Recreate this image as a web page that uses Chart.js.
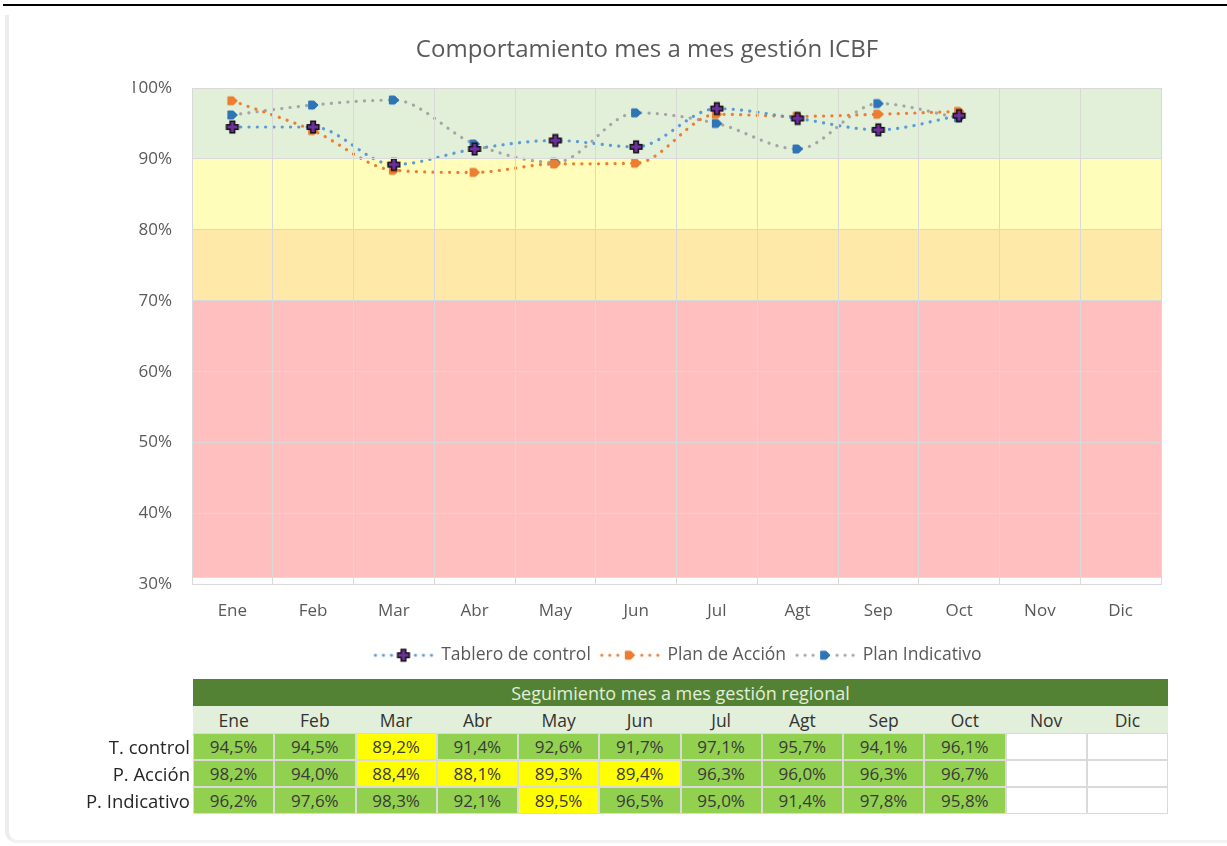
<!DOCTYPE html>
<html>
<head>
<meta charset="utf-8">
<script src="https://cdn.jsdelivr.net/npm/chart.js@4.4.1/dist/chart.umd.min.js"></script>
<style>
  html, body { margin: 0; padding: 0; background: #fff; }
  body { width: 1227px; height: 846px; position: relative; overflow: hidden; font-family: "Open Sans", sans-serif; }
  #topline { position: absolute; left: 3px; top: 4px; width: 1224px; height: 2px; background: #000; }
  #frame { position: absolute; left: 5px; top: 15px; width: 1240px; height: 828px; border-left: 4px solid #ededed; border-bottom: 3px solid #f2f2f2; border-bottom-left-radius: 12px; box-sizing: border-box; }
  #chart { position: absolute; left: 0; top: 0; }
  #tbl { position: absolute; left: 0; top: 0; width: 1227px; height: 846px; pointer-events: none; }
  .c { position: absolute; box-sizing: border-box; display: flex; align-items: center; justify-content: center; font-size: 17px; color: #3a3a3a; white-space: nowrap; }
</style>
</head>
<body>
<div id="topline"></div>
<div id="frame"></div>
<canvas id="chart" width="1227" height="680"></canvas>
<div id="tbl"></div>
<script>
// ---------- data ----------
const months = ["Ene","Feb","Mar","Abr","May","Jun","Jul","Agt","Sep","Oct","Nov","Dic"];
const tableroControl = [94.5, 94.5, 89.2, 91.4, 92.6, 91.7, 97.1, 95.7, 94.1, 96.1, null, null];
const planAccion     = [98.2, 94.0, 88.4, 88.1, 89.3, 89.4, 96.3, 96.0, 96.3, 96.7, null, null];
const planIndicativo = [96.2, 97.6, 98.3, 92.1, 89.5, 96.5, 95.0, 91.4, 97.8, 95.8, null, null];
const seriesNames = ["Tablero de control", "Plan de Acción", "Plan Indicativo"];
const rowLabels = ["T. control", "P. Acción", "P. Indicativo"];
const bandRed = [31, 70];
const bandOrange = [70, 80];
const bandYellow = [80, 90];
const bandGreen = [90, 100];
const yTicks = [30, 40, 50, 60, 70, 80, 90, 100];
const chartTitle = "Comportamiento mes a mes gestión ICBF";
const tableTitle = "Seguimiento mes a mes gestión regional";
const threshold = 90;

const FONT = "'Open Sans', sans-serif";
const TXT = "#595959";

// ---------- markers ----------
function mk(w, h, fn) { const c = document.createElement('canvas'); c.width = w; c.height = h; fn(c.getContext('2d'), w, h); return c; }
function crossMarker(ctx, cx, cy) {
  const a = 5.8, t = 2.3;
  ctx.beginPath();
  ctx.moveTo(cx - t, cy - a); ctx.lineTo(cx + t, cy - a); ctx.lineTo(cx + t, cy - t); ctx.lineTo(cx + a, cy - t);
  ctx.lineTo(cx + a, cy + t); ctx.lineTo(cx + t, cy + t); ctx.lineTo(cx + t, cy + a); ctx.lineTo(cx - t, cy + a);
  ctx.lineTo(cx - t, cy + t); ctx.lineTo(cx - a, cy + t); ctx.lineTo(cx - a, cy - t); ctx.lineTo(cx - t, cy - t); ctx.closePath();
  ctx.fillStyle = '#7030A0'; ctx.fill(); ctx.lineWidth = 1.5; ctx.strokeStyle = '#111'; ctx.stroke();
}
function arrowMarker(ctx, cx, cy, col) {
  ctx.beginPath();
  ctx.moveTo(cx - 4.5, cy - 4); ctx.lineTo(cx + 1, cy - 4); ctx.lineTo(cx + 5, cy); ctx.lineTo(cx + 1, cy + 4); ctx.lineTo(cx - 4.5, cy + 4); ctx.closePath();
  ctx.fillStyle = col; ctx.fill(); ctx.lineWidth = 1; ctx.strokeStyle = col; ctx.stroke();
}
const colors = ['#5B9BD5', '#ED7D31', '#A5A5A5'];
const markerFns = [
  (ctx, x, y) => crossMarker(ctx, x, y),
  (ctx, x, y) => arrowMarker(ctx, x, y, '#ED7D31'),
  (ctx, x, y) => arrowMarker(ctx, x, y, '#2E75B6')
];
const pointImgs = markerFns.map(f => mk(16, 16, (ctx) => f(ctx, 8, 8)));
const legendImgs = markerFns.map((f, i) => mk(62, 18, (ctx, w, h) => {
  ctx.fillStyle = colors[i];
  [3, 11, 19, 43, 51, 59].forEach(x => { ctx.beginPath(); ctx.arc(x, 9, 1.6, 0, Math.PI * 2); ctx.fill(); });
  f(ctx, 31, 9);
}));

// ---------- chart ----------
const bandDs = (rng, col) => ({ type: 'bar', data: months.map(() => rng), backgroundColor: col, borderWidth: 0, barPercentage: 1, categoryPercentage: 1, order: 10, grouped: false });
const lineDs = (label, data, i) => ({
  type: 'line', label, data, borderColor: colors[i], borderWidth: 3.2, borderDash: [0.1, 8.2], borderCapStyle: 'round',
  cubicInterpolationMode: 'monotone', pointStyle: pointImgs[i], pointRadius: 6, fill: false, order: i, spanGaps: false
});

const legendShift = {
  id: 'legendShift',
  beforeDraw(chart) { const lg = chart.legend; if (lg && !lg._shifted) { lg.left += 31; lg.right += 31; lg._shifted = true; } }
};

new Chart(document.getElementById('chart'), {
  type: 'bar',
  data: {
    labels: months,
    datasets: [
      lineDs(seriesNames[0], tableroControl, 0),
      lineDs(seriesNames[1], planAccion, 1),
      lineDs(seriesNames[2], planIndicativo, 2),
      bandDs(bandRed, '#FFBFBF'),
      bandDs(bandOrange, '#FFE9A8'),
      bandDs(bandYellow, '#FFFDB9'),
      bandDs(bandGreen, '#E2EFD9')
    ]
  },
  plugins: [legendShift],
  options: {
    responsive: false, animation: false,
    layout: { padding: { left: 133, right: 66, top: 0, bottom: 6 } },
    plugins: {
      tooltip: { enabled: false },
      title: { display: true, text: chartTitle, color: TXT, font: { family: FONT, size: 24, weight: 'normal' }, padding: { top: 35.6, bottom: 23.6 } },
      legend: {
        position: 'bottom',
        labels: {
          color: TXT, font: { family: FONT, size: 17.5 }, usePointStyle: true, pointStyleWidth: 58, padding: 10,
          generateLabels: (chart) => chart.data.datasets.slice(0, 3).map((d, i) => ({
            text: d.label, pointStyle: legendImgs[i], datasetIndex: i, fontColor: TXT, hidden: false, lineWidth: 0, strokeStyle: 'transparent', fillStyle: 'transparent'
          }))
        }
      }
    },
    scales: {
      x: {
        offset: true,
        grid: { offset: true, color: '#D9D9D9', lineWidth: 1, drawTicks: false, z: 1 },
        border: { color: '#D9D9D9', z: 1 },
        ticks: { color: TXT, font: { family: FONT, size: 17 }, padding: 16 },
        afterFit: (s) => { s.height = 52; }
      },
      y: {
        min: 30, max: 100,
        afterBuildTicks: (s) => { s.ticks = yTicks.map(v => ({ value: v })); },
        grid: { color: '#D9D9D9', lineWidth: 1, drawTicks: false, z: 1 },
        border: { display: false },
        ticks: { color: TXT, font: { family: FONT, size: 17 }, padding: 20, callback: (v) => v + '%' },
        afterFit: (s) => { s.width = 59; }
      }
    }
  }
});

// ---------- table ----------
const tbl = document.getElementById('tbl');
const T = { left: 193, top: 679, colW: 81.25, rowH: 27 };
function cell(x, y, w, h, text, style) {
  const d = document.createElement('div'); d.className = 'c';
  Object.assign(d.style, { left: x + 'px', top: y + 'px', width: w + 'px', height: h + 'px' }, style || {});
  d.textContent = text; tbl.appendChild(d); return d;
}
cell(T.left, T.top, T.colW * 12, T.rowH, tableTitle, { background: '#548235', color: '#E2EFDA', fontSize: '18px' });
months.forEach((m, i) => cell(T.left + i * T.colW, T.top + T.rowH, T.colW, T.rowH, m, { background: '#E2EFDA', color: '#333', fontSize: '17.5px' }));
[tableroControl, planAccion, planIndicativo].forEach((arr, r) => {
  const y = T.top + T.rowH * (2 + r);
  cell(40, y, 150, T.rowH, rowLabels[r], { justifyContent: 'flex-end', color: '#262626', fontSize: '18.5px' });
  arr.forEach((v, i) => {
    const has = v !== null;
    cell(T.left + i * T.colW, y, T.colW, T.rowH, has ? v.toFixed(1).replace('.', ',') + '%' : '', {
      background: has ? (v < threshold ? '#FFFF00' : '#92D050') : '#fff', border: '1px solid #DADADA'
    });
  });
});
</script>
</body>
</html>
